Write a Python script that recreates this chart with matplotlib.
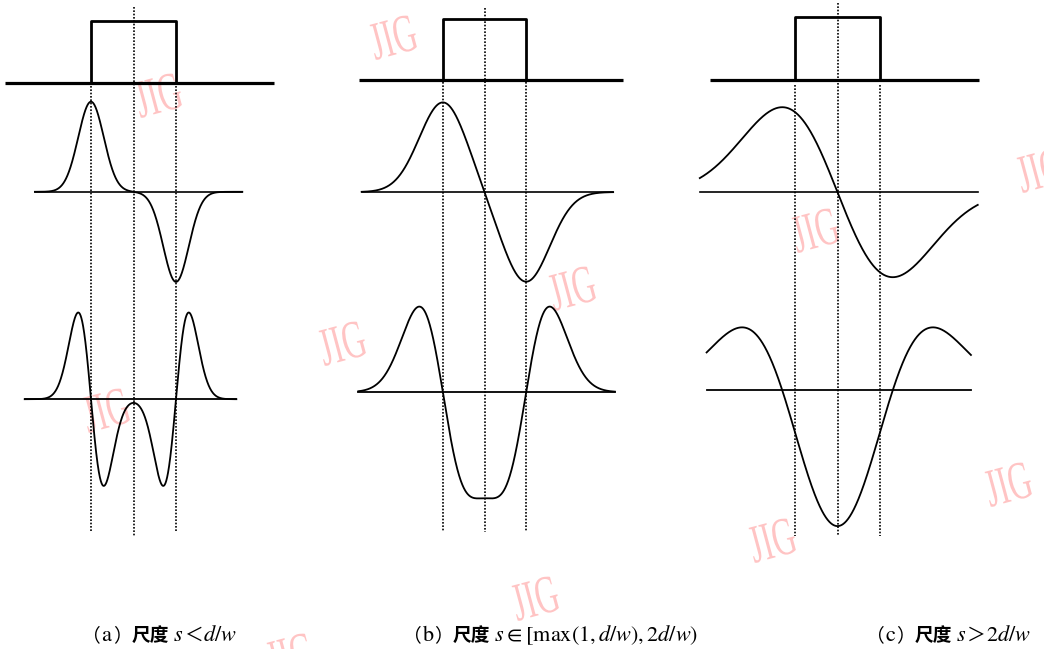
import numpy as np
import matplotlib.pyplot as plt
from matplotlib.textpath import TextPath
from matplotlib.patches import PathPatch
from matplotlib.font_manager import FontProperties
from matplotlib.transforms import Affine2D, IdentityTransform

plt.rcParams['mathtext.fontset'] = 'stix'

# ---------------- Daten (Einheit = Pulsbreite d) ----------------
panel_names = ['a', 'b', 'c']
gauss_scale = [0.15, 0.285, 0.565]     # Skala s der Gaussfunktion pro Teilbild
pulse_height = [0.73, 0.73, 0.74]      # Hoehe des Rechteckpulses
amp_first = [1.06, 1.08, 1.00]         # Spitze der 1. Ableitung
amp_second = [1.02, 1.03, 0.74]        # positive Spitze der 2. Ableitung
captions = [
    [('（', 'cjk'), (r'$\mathrm{a}$', 'math'), ('）', 'cjk'), ('尺度', 'bold'),
     (r' $s$', 'math'), ('＜', 'cjk'), (r'$d/w$', 'math')],
    [('（', 'cjk'), (r'$\mathrm{b}$', 'math'), ('）', 'cjk'), ('尺度', 'bold'),
     (r' $s\in[\mathrm{max}(1,d/w),2d/w)$', 'math')],
    [('（', 'cjk'), (r'$\mathrm{c}$', 'math'), ('）', 'cjk'), ('尺度', 'bold'),
     (r' $s$', 'math'), ('＞', 'cjk'), (r'$2d/w$', 'math')],
]

# ---------------- Layout (Pixel) ----------------
W, H = 1044, 649
edge_px = [91, 443, 795]          # linke Pulskante
width_px = [85, 83, 85]           # Pulsbreite in Pixel
base_px = [83, 80, 80]            # obere Grundlinie
row2 = [-1.28, -1.35, -1.32]      # Grundlinie 1. Ableitung
row3 = [-3.72, -3.76, -3.65]      # Grundlinie 2. Ableitung
top_ext = [(-1.01, 2.15), (-1.01, 2.17), (-1.0, 2.16)]
r2_ext = [(-0.66, 1.78), (-0.98, 2.05), (-1.12, 2.15)]
r3_ext = [(-0.78, 1.71), (-1.02, 2.07), (-1.04, 2.07)]
dot_edge = [(-0.03, -5.28), (-0.03, -5.45), (-0.06, -5.36)]
dot_mid = [(0.89, -5.34), (0.87, -5.45), (0.91, -5.35)]
cap_x = [82, 403, 866]
cap_y = 641


def gauss(v, s):
    return np.exp(-v ** 2 / (2 * s ** 2))


def dgauss(v, s):
    return -v * np.exp(-v ** 2 / (2 * s ** 2))


fig = plt.figure(figsize=(W / 100, H / 100), dpi=100)
fig.patch.set_facecolor('white')

for i in range(3):
    k = width_px[i]
    ax = fig.add_axes([0, 0, 1, 1])
    ax.patch.set_visible(False)
    ax.set_xlim(-edge_px[i] / k, (W - edge_px[i]) / k)
    ax.set_ylim((base_px[i] - H) / k, base_px[i] / k)
    ax.axis('off')
    s = gauss_scale[i]

    # Rechteckpuls
    ax.plot(top_ext[i], [0, 0], color='black', lw=2.3, solid_capstyle='butt')
    ax.plot([0, 0, 1, 1], [0, pulse_height[i], pulse_height[i], 0], color='black', lw=2.0)

    # 1. Ableitung
    u = np.linspace(r2_ext[i][0], r2_ext[i][1], 1200)
    f1 = gauss(u, s) - gauss(u - 1, s)
    f1 = f1 / f1.max() * amp_first[i]
    ax.plot(r2_ext[i], [row2[i], row2[i]], color='black', lw=1.2)
    ax.plot(u, f1 + row2[i], color='black', lw=1.3)

    # 2. Ableitung
    u = np.linspace(r3_ext[i][0], r3_ext[i][1], 1200)
    f2 = dgauss(u, s) - dgauss(u - 1, s)
    f2 = f2 / f2.max() * amp_second[i]
    ax.plot(r3_ext[i], [row3[i], row3[i]], color='black', lw=1.3)
    ax.plot(u, f2 + row3[i], color='black', lw=1.3)

    # gepunktete Hilfslinien
    for xe in (0, 1):
        ax.plot([xe, xe], dot_edge[i], color='black', lw=1.2, linestyle=(0, (1, 1)))
    ax.plot([0.5, 0.5], dot_mid[i], color='black', lw=1.2, linestyle=(0, (1, 1)))

# Wasserzeichen JIG
wm_pos = [(393, 37), (158, 95), (342, 343), (572, 288), (106, 410), (1040, 170),
          (815, 230), (1008, 484), (772, 540), (535, 598), (290, 655)]
tp = TextPath((0, 0), 'JIG', size=54, prop=FontProperties(family='Liberation Serif'))
bb = tp.get_extents()
cx, cy = (bb.x0 + bb.x1) / 2, (bb.y0 + bb.y1) / 2
for (x, y) in wm_pos:
    tr = Affine2D().translate(-cx, -cy).scale(0.6, 1).rotate_deg(15).translate(x, H - y)
    fig.add_artist(PathPatch(tr.transform_path(tp), transform=IdentityTransform(),
                             facecolor='#ffc4c4', edgecolor='none', zorder=-1))

# Bildunterschriften
styles = {
    'cjk': dict(family=['Noto Sans CJK SC', 'DejaVu Sans'], fontsize=13.5),
    'bold': dict(family=['Noto Sans CJK SC', 'DejaVu Sans'], weight='bold', fontsize=13.5),
    'math': dict(family=['Noto Sans CJK SC', 'DejaVu Sans'], fontsize=16),
}
renderer = fig.canvas.get_renderer()
for i in range(3):
    x = cap_x[i]
    for txt, st in captions[i]:
        t = fig.text(x / W, 1 - cap_y / H, txt, va='baseline',
                     ha='left', color='black', **styles[st])
        x += t.get_window_extent(renderer).width

fig.savefig('out.png', dpi=100, facecolor='white')
